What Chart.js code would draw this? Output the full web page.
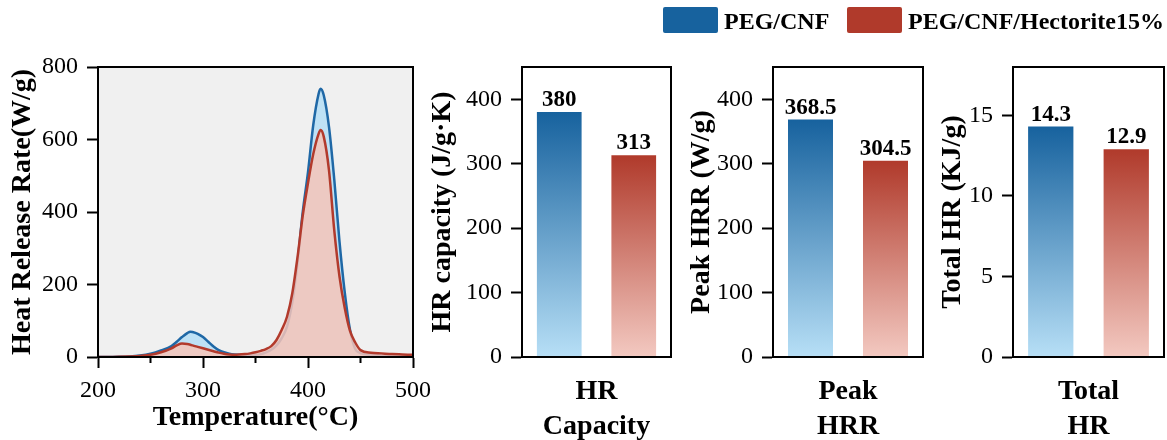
<!DOCTYPE html>
<html>
<head>
<meta charset="utf-8">
<script src="https://cdn.jsdelivr.net/npm/chart.js@4.4.1/dist/chart.umd.min.js"></script>
<style>
  html, body { margin: 0; padding: 0; background: #fff; }
  #wrap { position: relative; width: 1167px; height: 440px; overflow: hidden; font-family: 'Liberation Serif', 'Times New Roman', serif; }
  canvas { position: absolute; top: 0; }
  .lg-box { position: absolute; top: 7px; width: 55px; height: 26px; border-radius: 2px; }
  .lg-txt { position: absolute; top: 9px; font-weight: bold; font-size: 24px; line-height: 24px; white-space: nowrap; color: #000; }
</style>
</head>
<body>
<div id="wrap">
  <canvas id="cLine" width="440" height="440" style="left:0px;width:440px;height:440px"></canvas>
  <canvas id="cCap" width="255" height="440" style="left:420px;width:255px;height:440px"></canvas>
  <canvas id="cPeak" width="250" height="440" style="left:675px;width:250px;height:440px"></canvas>
  <canvas id="cTotal" width="242" height="440" style="left:925px;width:242px;height:440px"></canvas>

  <div class="lg-box" style="left:663px;background:#17629e"></div>
  <div class="lg-txt" style="left:724px">PEG/CNF</div>
  <div class="lg-box" style="left:847px;background:#b03a2b"></div>
  <div class="lg-txt" style="left:908px">PEG/CNF/Hectorite15%</div>
</div>
<script>
// ---- data ----
const seriesNames = ['PEG/CNF', 'PEG/CNF/Hectorite15%'];

const temps = [200, 210, 220, 230, 240, 250, 260, 270, 275, 280, 285, 288, 290, 295, 300, 305, 310, 315, 320, 325,
  330, 340, 345, 350, 355, 360, 365, 370, 375, 380, 385, 390, 395, 400, 405, 410, 412, 415, 420, 425,
  430, 435, 440, 445, 450, 460, 470, 480, 490, 500];
const hrrCnf = [0, 0, 0.5, 1.5, 4, 9, 18, 30, 42, 55, 66, 70, 69, 64, 55, 42, 29, 19, 13, 9,
  7, 6, 6, 6, 8, 13, 20, 32, 52, 84, 150, 260, 400, 510, 640, 725, 740, 722, 635, 490,
  318, 178, 75, 22, 11, 6, 5, 4, 3, 2];
const hrrHec = [0, 0, 0.5, 1.5, 3, 6, 13, 24, 32, 37, 36, 34, 32, 28, 24, 20, 16, 12, 9, 7,
  6, 8, 10, 13, 17, 22, 30, 47, 75, 111, 175, 275, 390, 480, 560, 615, 626, 608, 515, 350,
  222, 135, 72, 40, 19, 12, 10, 8, 7, 6];

const tempTicks = [200, 300, 400, 500];
const tempMinorTicks = [250, 350, 450];
const hrrTicks = [0, 200, 400, 600, 800];

const capLabel = ['HR', 'Capacity'];
const capValues = [380, 313];
const capTicks = [0, 100, 200, 300, 400];

const peakLabel = ['Peak', 'HRR'];
const peakValues = [368.5, 304.5];
const peakTicks = [0, 100, 200, 300, 400];

const totalLabel = ['Total', 'HR'];
const totalValues = [14.3, 12.9];
const totalTicks = [0, 5, 10, 15];

// ---- styling ----
const SERIF = "'Liberation Serif', 'Times New Roman', serif";
Chart.defaults.font.family = SERIF;
Chart.defaults.color = '#000';

const BLUE_LINE = '#1f68a6';
const RED_LINE = '#b23a2c';
const BLUE_DARK = '#17629e', BLUE_LIGHT = '#b7dff6';
const RED_DARK = '#b03a2b', RED_LIGHT = '#f3c9c1';

function fixedTicks(values) {
  return (scale) => { scale.ticks = values.map(v => ({ value: v })); };
}

const frame = {
  id: 'frame',
  beforeDraw(chart, args, opts) {
    if (!opts.bg) return;
    const { ctx, chartArea: a } = chart;
    ctx.save();
    ctx.fillStyle = opts.bg;
    ctx.fillRect(a.left, a.top, a.right - a.left, a.bottom - a.top);
    ctx.restore();
  },
  afterDraw(chart) {
    const { ctx, chartArea: a } = chart;
    ctx.save();
    ctx.strokeStyle = '#000';
    ctx.lineWidth = 2;
    ctx.strokeRect(a.left, a.top, a.right - a.left, a.bottom - a.top);
    ctx.restore();
  }
};

const minorTicks = {
  id: 'minorTicks',
  afterDraw(chart, args, opts) {
    if (!opts.values) return;
    const { ctx, scales: { x }, chartArea: a } = chart;
    ctx.save();
    ctx.strokeStyle = '#000';
    ctx.lineWidth = 2;
    opts.values.forEach(v => {
      const px = x.getPixelForValue(v);
      ctx.beginPath();
      ctx.moveTo(px, a.bottom);
      ctx.lineTo(px, a.bottom + 6);
      ctx.stroke();
    });
    ctx.restore();
  }
};

const valueLabels = {
  id: 'valueLabels',
  afterDatasetsDraw(chart) {
    const { ctx } = chart;
    ctx.save();
    ctx.font = 'bold 23px ' + SERIF;
    ctx.fillStyle = '#000';
    ctx.textAlign = 'center';
    ctx.textBaseline = 'alphabetic';
    chart.data.datasets.forEach((ds, i) => {
      chart.getDatasetMeta(i).data.forEach((bar, j) => {
        ctx.fillText(String(ds.data[j]), bar.x, bar.y - 6);
      });
    });
    ctx.restore();
  }
};

// ---- 1. heat release rate curves ----
new Chart(document.getElementById('cLine'), {
  type: 'line',
  data: {
    datasets: [
      {
        label: seriesNames[0],
        data: temps.map((t, i) => ({ x: t, y: hrrCnf[i] })),
        borderColor: BLUE_LINE,
        backgroundColor: 'rgba(168, 218, 247, 0.7)',
        fill: 'origin',
        borderWidth: 2.5,
        pointRadius: 0,
        cubicInterpolationMode: 'monotone',
        order: 1
      },
      {
        label: seriesNames[1],
        data: temps.map((t, i) => ({ x: t, y: hrrHec[i] })),
        borderColor: RED_LINE,
        backgroundColor: 'rgba(246, 196, 184, 0.85)',
        fill: 'origin',
        borderWidth: 2.5,
        pointRadius: 0,
        cubicInterpolationMode: 'monotone',
        order: 0
      }
    ]
  },
  plugins: [frame, minorTicks],
  options: {
    responsive: false,
    animation: false,
    layout: { padding: { top: 67, right: 27, bottom: 0, left: 0 } },
    scales: {
      x: {
        type: 'linear',
        min: 200,
        max: 500,
        afterBuildTicks: fixedTicks(tempTicks),
        afterFit: (s) => { s.height = 83; },
        grid: { drawOnChartArea: false, tickLength: 11, tickWidth: 2, tickColor: '#000' },
        border: { color: '#000', width: 2 },
        ticks: { font: { size: 24 }, padding: 8, maxRotation: 0 },
        title: { display: true, text: 'Temperature(°C)', font: { size: 28, weight: 'bold' }, padding: { top: 0, bottom: 5 } }
      },
      y: {
        min: 0,
        max: 800,
        afterBuildTicks: fixedTicks(hrrTicks),
        afterFit: (s) => { s.width = 98; },
        grid: { drawOnChartArea: false, tickLength: 11, tickWidth: 2, tickColor: '#000' },
        border: { color: '#000', width: 2 },
        ticks: { font: { size: 24 }, padding: 9 },
        title: { display: true, text: 'Heat Release Rate(W/g)', font: { size: 28, weight: 'bold' }, padding: { top: 6, bottom: 0 } }
      }
    },
    plugins: {
      legend: { display: false },
      tooltip: { enabled: false },
      frame: { bg: '#f0f0f0' },
      minorTicks: { values: tempMinorTicks }
    }
  }
});

// ---- 2-4. bar panels ----
function gradient(dark, light) {
  return (c) => {
    const chart = c.chart;
    if (!chart.chartArea || c.raw === undefined) return dark;
    const y = chart.scales.y;
    const g = chart.ctx.createLinearGradient(0, y.getPixelForValue(c.raw), 0, y.getPixelForValue(0));
    g.addColorStop(0, dark);
    g.addColorStop(1, light);
    return g;
  };
}

function barPanel(id, label, values, ticks, yMax, yTitle, yAxisWidth, padRight, titlePad) {
  return new Chart(document.getElementById(id), {
    type: 'bar',
    data: {
      labels: [label],
      datasets: [
        { label: seriesNames[0], data: [values[0]], backgroundColor: gradient(BLUE_DARK, BLUE_LIGHT) },
        { label: seriesNames[1], data: [values[1]], backgroundColor: gradient(RED_DARK, RED_LIGHT) }
      ]
    },
    plugins: [frame, valueLabels],
    options: {
      responsive: false,
      animation: false,
      layout: { padding: { top: 67, right: padRight, bottom: 0, left: 0 } },
      datasets: { bar: { categoryPercentage: 1.0, barPercentage: 0.6 } },
      scales: {
        x: {
          afterFit: (s) => { s.height = 83; },
          grid: { display: false },
          border: { color: '#000', width: 2 },
          ticks: { font: { size: 28, weight: 'bold', lineHeight: 1.25 }, padding: 9, maxRotation: 0 }
        },
        y: {
          min: 0,
          max: yMax,
          afterBuildTicks: fixedTicks(ticks),
          afterFit: (s) => { s.width = yAxisWidth; },
          grid: { drawOnChartArea: false, tickLength: 11, tickWidth: 2, tickColor: '#000' },
          border: { color: '#000', width: 2 },
          ticks: { font: { size: 24 }, padding: 9 },
          title: { display: true, text: yTitle, font: { size: 28, weight: 'bold' }, padding: { top: titlePad, bottom: 0 } }
        }
      },
      plugins: {
        legend: { display: false },
        tooltip: { enabled: false }
      }
    }
  });
}

barPanel('cCap', capLabel, capValues, capTicks, 450, 'HR capacity (J/g·K)', 102, 4, 6);
barPanel('cPeak', peakLabel, peakValues, peakTicks, 450, 'Peak HRR (W/g)', 98, 2, 10);
barPanel('cTotal', totalLabel, totalValues, totalTicks, 18, 'Total HR (KJ/g)', 88, 3, 11);
</script>
</body>
</html>
